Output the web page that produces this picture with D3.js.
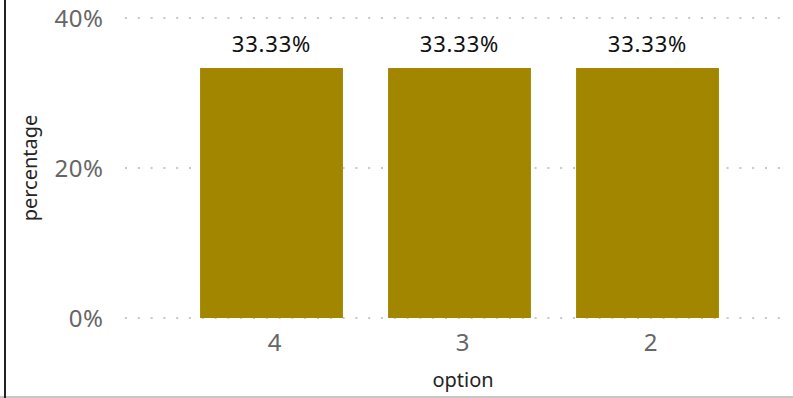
<!DOCTYPE html>
<html>
<head>
<meta charset="utf-8">
<script src="https://cdn.jsdelivr.net/npm/d3@7"></script>
<style>
  html, body { margin: 0; padding: 0; background: #fff; }
  svg { display: block; }
  text { font-family: "Noto Sans", "DejaVu Sans", sans-serif; }
</style>
</head>
<body>
<svg id="chart" width="793" height="398"></svg>
<script>
const categories = ["4", "3", "2"];
const values = [33.33, 33.33, 33.33];
const yTicks = [0, 20, 40];
const xTitle = "option";
const yTitle = "percentage";

const svg = d3.select("#chart");
const W = 793, H = 398;

// frame
svg.append("line").attr("x1", 0).attr("x2", W).attr("y1", 397).attr("y2", 397)
  .attr("stroke", "#b3b3b3").attr("stroke-width", 1.5);
svg.append("line").attr("x1", 5).attr("x2", 5).attr("y1", 0).attr("y2", 398)
  .attr("stroke", "#222").attr("stroke-width", 2);

const y = d3.scaleLinear().domain([0, 40]).range([318, 18]);
const x = d3.scaleBand().domain(categories).range([177.5, 741.5])
  .paddingInner(0.24).paddingOuter(0.12);

// gridlines
svg.append("g").selectAll("line").data(yTicks).join("line")
  .attr("x1", 125).attr("x2", 790)
  .attr("y1", d => y(d)).attr("y2", d => y(d))
  .attr("stroke", "#c8c8c8").attr("stroke-width", 2)
  .attr("stroke-dasharray", "2 10.8");

// y tick labels
svg.append("g").selectAll("text").data(yTicks).join("text")
  .attr("x", 103.5).attr("y", d => y(d))
  .attr("dy", "0.36em")
  .attr("text-anchor", "end")
  .attr("fill", "#666666")
  .attr("font-size", 24)
  .attr("letter-spacing", 0.5)
  .text(d => d + "%");

// bars
svg.append("g").selectAll("rect").data(values).join("rect")
  .attr("x", (d, i) => x(categories[i]))
  .attr("width", x.bandwidth())
  .attr("y", d => y(d))
  .attr("height", d => y(0) - y(d))
  .attr("fill", "#a38600");

// data labels
svg.append("g").selectAll("text").data(values).join("text")
  .attr("x", (d, i) => x(categories[i]) + x.bandwidth() / 2)
  .attr("y", d => y(d) - 16)
  .attr("text-anchor", "middle")
  .attr("fill", "#111111")
  .attr("font-size", 22)
  .attr("letter-spacing", 0.8)
  .text(d => d.toFixed(2) + "%");

// x tick labels
svg.append("g").selectAll("text").data(categories).join("text")
  .attr("x", d => x(d) + x.bandwidth() / 2 + 3)
  .attr("y", 342)
  .attr("dy", "0.36em")
  .attr("text-anchor", "middle")
  .attr("fill", "#666666")
  .attr("font-size", 24)
  .text(d => d);

// axis titles
svg.append("text")
  .attr("x", 463).attr("y", 387)
  .attr("text-anchor", "middle")
  .attr("fill", "#252423")
  .attr("font-size", 20)
  .text(xTitle);

svg.append("text")
  .attr("transform", "translate(37,168) rotate(-90)")
  .attr("text-anchor", "middle")
  .attr("fill", "#252423")
  .attr("font-size", 20)
  .text(yTitle);
</script>
</body>
</html>
